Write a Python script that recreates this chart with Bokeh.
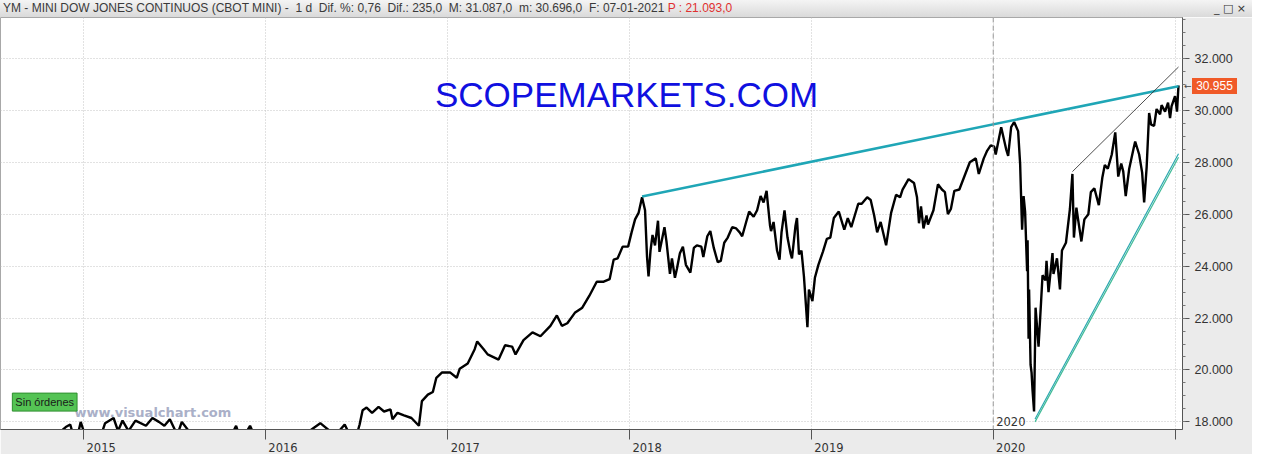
from datetime import datetime
import pandas as pd
from bokeh.plotting import figure
from bokeh.models import Label, Span, FixedTicker, Range1d, Div
from bokeh.layouts import column
from bokeh.embed import file_html
from bokeh.resources import INLINE

# ---------------- data ----------------
dates = [
    "2014-07-18", "2014-08-07", "2014-08-29", "2014-09-19", "2014-10-15", "2014-10-31",
    "2014-11-14", "2014-11-26", "2014-12-05", "2014-12-16", "2014-12-26",
    "2015-01-06", "2015-01-16", "2015-01-30", "2015-02-13", "2015-03-02", "2015-03-11",
    "2015-03-20", "2015-04-01", "2015-04-15", "2015-05-06", "2015-05-19", "2015-06-01",
    "2015-06-12", "2015-06-23", "2015-07-08", "2015-07-17", "2015-07-31", "2015-08-14",
    "2015-08-25", "2015-09-16", "2015-09-29", "2015-10-16", "2015-11-03", "2015-11-13",
    "2015-12-01", "2015-12-14", "2015-12-29",
    "2016-01-20", "2016-02-11", "2016-03-01", "2016-03-22", "2016-04-20", "2016-05-06",
    "2016-05-19", "2016-06-08", "2016-06-27", "2016-07-08", "2016-07-14", "2016-07-22",
    "2016-08-02", "2016-08-15", "2016-08-26", "2016-09-08", "2016-09-12", "2016-09-22",
    "2016-10-05", "2016-10-20", "2016-11-04", "2016-11-10", "2016-11-22", "2016-12-02",
    "2016-12-09", "2016-12-20",
    "2017-01-06", "2017-01-19", "2017-01-25", "2017-02-10", "2017-02-24", "2017-03-01",
    "2017-03-14", "2017-03-22", "2017-04-13", "2017-04-26", "2017-05-10", "2017-05-17",
    "2017-06-02", "2017-06-20", "2017-07-06", "2017-07-26", "2017-08-08", "2017-08-18",
    "2017-08-29", "2017-09-13", "2017-09-28", "2017-10-12", "2017-10-27", "2017-11-10",
    "2017-11-22", "2017-11-30", "2017-12-08", "2017-12-18", "2017-12-29",
    "2018-01-05", "2018-01-12", "2018-01-19", "2018-01-26", "2018-02-01", "2018-02-05",
    "2018-02-08", "2018-02-12", "2018-02-16", "2018-02-21", "2018-02-27", "2018-03-02",
    "2018-03-12", "2018-03-16", "2018-03-23", "2018-03-27", "2018-04-02", "2018-04-06",
    "2018-04-12", "2018-04-18", "2018-04-24", "2018-05-03", "2018-05-10", "2018-05-16",
    "2018-05-25", "2018-05-29", "2018-06-06", "2018-06-12", "2018-06-19", "2018-06-27",
    "2018-07-03", "2018-07-10", "2018-07-17", "2018-07-26", "2018-08-03", "2018-08-10",
    "2018-08-15", "2018-08-23", "2018-08-29", "2018-09-07", "2018-09-14", "2018-09-21",
    "2018-09-27", "2018-10-03", "2018-10-05", "2018-10-10", "2018-10-12", "2018-10-17",
    "2018-10-24", "2018-10-29", "2018-11-02", "2018-11-08", "2018-11-14", "2018-11-20",
    "2018-11-23", "2018-11-30", "2018-12-03", "2018-12-07", "2018-12-12", "2018-12-17",
    "2018-12-21", "2018-12-24", "2018-12-27",
    "2019-01-03", "2019-01-08", "2019-01-15", "2019-01-24", "2019-02-01", "2019-02-08",
    "2019-02-15", "2019-02-25", "2019-03-08", "2019-03-15", "2019-03-22", "2019-03-29",
    "2019-04-05", "2019-04-12", "2019-04-23", "2019-04-30", "2019-05-07", "2019-05-13",
    "2019-05-20", "2019-05-31", "2019-06-04", "2019-06-10", "2019-06-20", "2019-06-28",
    "2019-07-03", "2019-07-15", "2019-07-26", "2019-08-01", "2019-08-05", "2019-08-09",
    "2019-08-14", "2019-08-20", "2019-08-23", "2019-09-03", "2019-09-12", "2019-09-20",
    "2019-09-26", "2019-10-02", "2019-10-08", "2019-10-15", "2019-10-25", "2019-11-04",
    "2019-11-15", "2019-11-27", "2019-12-03", "2019-12-13", "2019-12-20", "2019-12-27",
    "2020-01-03", "2020-01-06", "2020-01-17", "2020-01-27", "2020-01-31", "2020-02-06",
    "2020-02-12", "2020-02-20", "2020-02-24", "2020-02-27", "2020-02-28", "2020-03-02",
    "2020-03-05", "2020-03-09", "2020-03-10", "2020-03-12", "2020-03-13", "2020-03-16",
    "2020-03-18", "2020-03-20", "2020-03-23", "2020-03-26", "2020-04-01", "2020-04-06",
    "2020-04-09", "2020-04-15", "2020-04-17", "2020-04-21", "2020-04-29", "2020-05-01",
    "2020-05-08", "2020-05-14", "2020-05-18", "2020-05-26", "2020-06-03", "2020-06-08",
    "2020-06-11", "2020-06-16", "2020-06-19", "2020-06-26", "2020-07-02", "2020-07-10",
    "2020-07-15", "2020-07-22", "2020-07-31", "2020-08-07", "2020-08-12", "2020-08-18",
    "2020-08-26", "2020-09-02", "2020-09-08", "2020-09-14", "2020-09-18", "2020-09-23",
    "2020-09-30", "2020-10-09", "2020-10-12", "2020-10-20", "2020-10-26", "2020-10-30",
    "2020-11-04", "2020-11-09", "2020-11-13", "2020-11-19", "2020-11-24", "2020-12-01",
    "2020-12-04", "2020-12-11", "2020-12-17", "2020-12-21", "2020-12-24", "2020-12-31",
    "2021-01-04", "2021-01-06", "2021-01-07",
]
closes = [
    16950, 16350, 17050, 17250, 16100, 17350,
    17600, 17800, 17900, 17150, 18000,
    17350, 17500, 17150, 17950, 18150, 17650,
    18050, 17650, 18050, 17850, 18150, 18000,
    17850, 18100, 17500, 18000, 17650, 17450,
    15650, 16600, 16000, 17150, 17850, 17250,
    17850, 17300, 17700,
    15700, 15600, 16800, 17550, 17950, 17700,
    17450, 17900, 17150, 17900, 18450, 18550,
    18350, 18580, 18400, 18480, 18100, 18350,
    18250, 18150, 17850, 18800, 19050, 19150,
    19700, 19900,
    19900, 19700, 20050, 20250, 20800, 21100,
    20800, 20600, 20400, 20950, 20900, 20600,
    21150, 21450, 21300, 21700, 22100, 21700,
    21800, 22200, 22400, 22850, 23400, 23400,
    23500, 24250, 24300, 24750, 24750,
    25300, 25800, 26050, 26650, 26150, 24350,
    23600, 24600, 25200, 24800, 25750, 24550,
    25500, 24950, 23700, 24300, 23550, 23900,
    24500, 24750, 24050, 23750, 24700, 24800,
    24750, 24350, 25150, 25350, 24700, 24150,
    24200, 24900, 25100, 25500, 25450, 25300,
    25150, 25700, 26100, 25900, 26150, 26700,
    26450, 26900, 26500, 25550, 25350, 25700,
    24600, 24250, 25300, 26150, 25100, 24500,
    24300, 25550, 25850, 24450, 24600, 23600,
    22500, 21650, 23100,
    22650, 23550, 24050, 24550, 25050, 25100,
    25850, 26100, 25400, 25850, 25500, 25950,
    26400, 26400, 26650, 26550, 25950, 25300,
    25700, 24800, 25300, 26050, 26750, 26650,
    26950, 27350, 27200, 26650, 25650, 26300,
    25450, 25950, 25600, 26150, 27150, 26950,
    26850, 26000, 26200, 26900, 26950, 27450,
    28000, 28150, 27550, 28150, 28450, 28650,
    28600, 28300, 29350, 28500, 28250, 29350,
    29550, 29200, 27950, 26000, 25400, 26700,
    26100, 23800, 25000, 21200, 23100, 20200,
    19900, 19200, 18400, 22400, 20900, 22600,
    23650, 23450, 24200, 23000, 24500, 23700,
    24300, 23100, 24600, 24900, 26200, 27550,
    25100, 26250, 25850, 24950, 25800, 26000,
    26850, 27000, 26350, 27400, 27900, 27750,
    28300, 29150, 27450, 27950, 27650, 26700,
    27750, 28550, 28800, 28300, 27600, 26450,
    27800, 29900, 29450, 29400, 30050, 29850,
    30200, 29950, 30300, 29700, 30150, 30550,
    29950, 30650, 30955,
]

year_tick_dates = ["2015-01-01", "2016-01-01", "2017-01-01", "2018-01-01",
                   "2019-01-01", "2020-01-01", "2021-01-01"]
year_labels = ["2015", "2016", "2017", "2018", "2019", "2020"]
price_ticks = [18000, 20000, 22000, 24000, 26000, 28000, 30000, 32000]
price_labels = ["18.000", "20.000", "22.000", "24.000", "26.000", "28.000", "30.000", "32.000"]
price_minor_step = 500

# trend lines drawn on the chart (two end points each)
resist_dates = ["2018-01-26", "2021-01-07"]
resist_vals = [26680, 30930]
thin_dates = ["2020-06-08", "2021-01-07"]
thin_vals = [27640, 31670]
channel_dates = ["2020-03-25", "2021-01-07"]
channel_vals_a = [18110, 28330]
channel_vals_b = [18000, 28190]

last_price = 30955
marker_year = "2020-01-01"

title_main = ("YM - MINI DOW JONES CONTINUOS (CBOT MINI) -&nbsp; 1 d&nbsp; Dif. %: 0,76&nbsp; "
              "Dif.: 235,0&nbsp; M: 31.087,0&nbsp; m: 30.696,0&nbsp; F: 07-01-2021&nbsp;")
title_red = "P : 21.093,0"

# ---------------- layout constants ----------------
W, H = 1252, 454
TOPBAR, BOTTOM, RIGHT = 17, 18, 70
SXF, SYF = W / 1268, H / 470
X0, X1 = datetime(2014, 7, 18), datetime(2021, 1, 15)
Y0, Y1 = 17707, 33576


def sx(x):
    return x * SXF


def sy(y):
    return (H - BOTTOM) - y * SYF


def ms(d):
    return pd.Timestamp(d).value / 1e6


p = figure(width=W, height=H - TOPBAR, x_axis_type="datetime", y_axis_location="right",
           output_backend="svg", toolbar_location=None,
           x_range=Range1d(X0, X1), y_range=Range1d(Y0, Y1),
           min_border_left=0, min_border_right=RIGHT, min_border_top=0,
           min_border_bottom=BOTTOM)
p.background_fill_color = "white"
p.border_fill_color = "#ebebeb"
p.outline_line_color = "#a8a8a8"

# bottom axis: visible tick marks at year starts (minor ticks), labels sit just right of them
px_per_ms = (W - RIGHT) / (ms(X1) - ms(X0))
label_shift = 17.5 / px_per_ms
year_ms = [ms(d) for d in year_tick_dates]
label_pos = [t + label_shift for t in year_ms[:len(year_labels)]]
p.xaxis.ticker = FixedTicker(ticks=label_pos, minor_ticks=year_ms)
p.xaxis.major_label_overrides = dict(zip(label_pos, year_labels))
p.xaxis.major_tick_line_color = None
p.xaxis.major_tick_out = 0
p.xaxis.major_tick_in = 0
p.xaxis.minor_tick_out = 10
p.xaxis.minor_tick_in = 0
p.xaxis.minor_tick_line_color = "#555555"
p.xaxis.major_label_standoff = 3
p.xaxis.major_label_text_font = "DejaVu Sans"
p.xaxis.major_label_text_font_size = "11.5px"
p.xaxis.major_label_text_color = "#333333"
p.xaxis.axis_line_color = "#555555"

minors = list(range(17500, 34001, price_minor_step))
p.yaxis.ticker = FixedTicker(ticks=price_ticks, minor_ticks=minors)
p.yaxis.major_label_overrides = dict(zip(price_ticks, price_labels))
p.yaxis.major_tick_out = 7
p.yaxis.major_tick_in = 0
p.yaxis.minor_tick_out = 3
p.yaxis.minor_tick_in = 0
p.yaxis.major_label_standoff = 5
p.yaxis.axis_line_color = "#555555"
p.yaxis.major_tick_line_color = "#555555"
p.yaxis.minor_tick_line_color = "#777777"
p.yaxis.major_label_text_font = "Liberation Sans"
p.yaxis.major_label_text_font_size = "12.5px"
p.yaxis.major_label_text_color = "#333333"

# grid
p.xgrid.ticker = FixedTicker(ticks=year_ms)
p.xgrid.grid_line_color = "#c4c4c4"
p.xgrid.grid_line_dash = "1 2"
p.ygrid.grid_line_color = "#c4c4c4"
p.ygrid.grid_line_dash = "1 2"

p.add_layout(Span(location=ms(marker_year), dimension="height",
                  line_color="#9a9a9a", line_dash="5 3", line_width=1))

# price
p.line(x=pd.to_datetime(dates), y=closes, line_color="black", line_width=2.4)

# trend lines
p.line(x=pd.to_datetime(resist_dates), y=resist_vals, line_color="#1fa6b6", line_width=2.6)
p.line(x=pd.to_datetime(thin_dates), y=thin_vals, line_color="#222222", line_width=0.8)
p.line(x=pd.to_datetime(channel_dates), y=channel_vals_a, line_color="#2aa7b0", line_width=1.2)
p.line(x=pd.to_datetime(channel_dates), y=channel_vals_b, line_color="#3fba96", line_width=1.2)

# ---------------- texts in the chart ----------------
narrow = "Liberation Sans Narrow, Arial Narrow, Liberation Sans"

p.add_layout(Label(x=sx(634), y=sy(105), x_units="screen", y_units="screen",
                   text="SCOPEMARKETS.COM", text_font="Liberation Sans",
                   text_font_size="35px", text_color="#1010e0",
                   text_align="center", text_baseline="middle"))

p.add_layout(Label(x=sx(75), y=sy(434), x_units="screen", y_units="screen",
                   text="www.visualchart.com", text_font="DejaVu Sans",
                   text_font_style="bold", text_font_size="13px", text_color="#aab0c8",
                   text_baseline="middle"))

p.add_layout(Label(x=sx(12), y=sy(423), x_units="screen", y_units="screen",
                   text="Sin órdenes", text_font=narrow, text_font_size="11px",
                   text_color="#1a1a1a", text_baseline="middle",
                   background_fill_color="#54c354", border_line_color="#2f8f2f",
                   padding=3))

p.add_layout(Label(x=ms(marker_year), y=sy(443), y_units="screen", x_offset=3,
                   text=year_labels[-1], text_font="DejaVu Sans",
                   text_font_size="11.5px", text_color="#333333", text_baseline="middle"))

# ---------------- title bar (with the last-price tag hanging over the right axis) --------
price_txt = f"{last_price:,}".replace(",", ".")
# vertical position of the tag follows the price on the axis scale
tag_center = (H - BOTTOM - TOPBAR) * (Y1 - last_price) / (Y1 - Y0) + TOPBAR
tag_left = W - RIGHT + 10

bar = Div(
    text=(f'<span style="color:#3a3a3a">{title_main}</span>'
          f'<span style="color:#e03030">{title_red}</span>'
          '<span style="position:absolute;right:6px;top:0px;color:#333;'
          'font-family:DejaVu Sans;font-size:11px">_ &#9633; &#215;</span>'
          f'<span style="position:absolute;left:{tag_left}px;top:{tag_center - 8:.0f}px;'
          'width:45px;height:16px;line-height:16px;background:#f05a28;color:white;'
          'font-family:Liberation Sans;font-size:12px;text-align:center;z-index:20">'
          f'{price_txt}</span>'
          f'<span style="position:absolute;left:{tag_left - 8}px;top:{tag_center - 8:.0f}px;'
          'height:16px;line-height:16px;color:#444;font-family:DejaVu Sans;'
          'font-size:9px;z-index:20">&#8592;</span>'),
    width=W, height=TOPBAR, margin=(0, 0, 0, 0),
    styles={"background": "linear-gradient(#f4f4f4, #dadada)",
            "font-family": narrow, "font-size": "12px", "line-height": f"{TOPBAR}px",
            "padding-left": "3px", "white-space": "nowrap", "overflow": "visible",
            "box-sizing": "border-box", "position": "relative", "z-index": "10"},
)

layout = column(bar, p, spacing=0)
open("out.html", "w").write(file_html(layout, INLINE))
